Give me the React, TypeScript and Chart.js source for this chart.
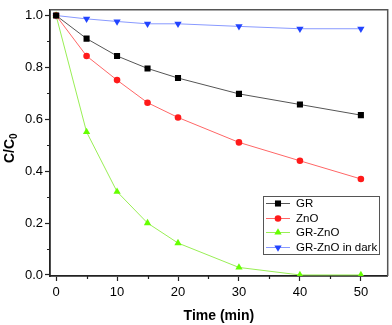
import React, { useEffect, useRef } from "react";
import { Chart, registerables } from "chart.js";

Chart.register(...registerables);

const times = [0, 5, 10, 15, 20, 30, 40, 50];
const grValues = [1.0, 0.911, 0.844, 0.796, 0.759, 0.698, 0.657, 0.616];
const znoValues = [1.0, 0.844, 0.751, 0.664, 0.607, 0.511, 0.44, 0.37];
const grZnoValues = [1.0, 0.551, 0.321, 0.2, 0.123, 0.029, 0.0, 0.0];
const darkValues = [1.0, 0.987, 0.977, 0.968, 0.968, 0.958, 0.949, 0.949];

const seriesNames = ["GR", "ZnO", "GR-ZnO", "GR-ZnO in dark"];
const xTickValues = [0, 5, 10, 15, 20, 25, 30, 35, 40, 45, 50];
const yTickValues = [0, 0.1, 0.2, 0.3, 0.4, 0.5, 0.6, 0.7, 0.8, 0.9, 1.0];
const xAxisTitle = "Time (min)";
const yAxisTitle = "C/C";
const yAxisSub = "0";

const FONT = "'Liberation Sans', Arial, sans-serif";

const styles = [
  { line: "#555555", point: "#000000", pointStyle: "rect", rotation: 0, radius: 4.3 },
  { line: "#ff6666", point: "#ff1a1a", pointStyle: "circle", rotation: 0, radius: 3.3 },
  { line: "#99ee55", point: "#66ff00", pointStyle: "triangle", rotation: 0, radius: 4.2 },
  { line: "#8899ff", point: "#2244ff", pointStyle: "triangle", rotation: 180, radius: 4.2 },
];

function drawMarker(ctx: CanvasRenderingContext2D, style: string, rotation: number, r: number, x: number, y: number) {
  ctx.beginPath();
  if (style === "rect") {
    const s = r * Math.SQRT1_2;
    ctx.rect(x - s, y - s, 2 * s, 2 * s);
  } else if (style === "circle") {
    ctx.arc(x, y, r, 0, Math.PI * 2);
  } else {
    const rad = (rotation * Math.PI) / 180;
    for (let k = 0; k < 3; k++) {
      const a = rad - Math.PI / 2 + (k * 2 * Math.PI) / 3;
      const px = x + Math.cos(a) * r;
      const py = y + Math.sin(a) * r;
      if (k === 0) ctx.moveTo(px, py);
      else ctx.lineTo(px, py);
    }
    ctx.closePath();
  }
  ctx.fill();
}

const framePlugin = {
  id: "framePlugin",
  afterDraw(chart: any) {
    const { ctx, chartArea } = chart;
    const { left, right, top, bottom } = chartArea;
    const xs = chart.scales.x;
    const ys = chart.scales.y;
    ctx.save();
    ctx.strokeStyle = "#555555";
    ctx.lineWidth = 1.5;
    ctx.beginPath();
    ctx.moveTo(left, top);
    ctx.lineTo(right, top);
    ctx.lineTo(right, bottom);
    ctx.stroke();
    ctx.strokeStyle = "#222222";
    ctx.lineWidth = 1.2;
    ctx.beginPath();
    xTickValues.forEach((v) => {
      if (v % 10 !== 0) {
        const px = Math.round(xs.getPixelForValue(v)) + 0.5;
        ctx.moveTo(px, bottom);
        ctx.lineTo(px, bottom + 3);
      }
    });
    yTickValues.forEach((v, i) => {
      if (i % 2 === 1) {
        const py = Math.round(ys.getPixelForValue(v)) + 0.5;
        ctx.moveTo(left, py);
        ctx.lineTo(left - 3, py);
      }
    });
    ctx.stroke();

    ctx.fillStyle = "#000";
    ctx.translate(14, 163);
    ctx.rotate(-Math.PI / 2);
    ctx.font = `bold 14px ${FONT}`;
    ctx.textBaseline = "alphabetic";
    ctx.textAlign = "left";
    ctx.fillText(yAxisTitle, 0, 0);
    const w = ctx.measureText(yAxisTitle).width;
    ctx.font = `bold 10px ${FONT}`;
    ctx.fillText(yAxisSub, w, 3);
    ctx.restore();

    ctx.save();
    const bx = 263, by = 196, bw = 116, bh = 58;
    ctx.fillStyle = "#fff";
    ctx.fillRect(bx, by, bw, bh);
    ctx.strokeStyle = "#555";
    ctx.lineWidth = 1;
    ctx.strokeRect(bx + 0.5, by + 0.5, bw, bh);
    const rowY = [203, 218, 232, 247];
    chart.data.datasets.forEach((ds: any, i: number) => {
      const st = styles[i];
      const y = rowY[i];
      ctx.strokeStyle = st.line;
      ctx.lineWidth = 1;
      ctx.beginPath();
      ctx.moveTo(266, y + 0.5);
      ctx.lineTo(290, y + 0.5);
      ctx.stroke();
      ctx.fillStyle = st.point;
      drawMarker(ctx, st.pointStyle, st.rotation, st.radius, 278, y + 0.5);
      ctx.fillStyle = "#000";
      ctx.font = `11.5px ${FONT}`;
      ctx.textBaseline = "middle";
      ctx.textAlign = "left";
      ctx.fillText(ds.label, 296, y + 1);
    });
    ctx.restore();
  },
};

export default function App() {
  const ref = useRef<HTMLCanvasElement>(null);
  useEffect(() => {
    if (!ref.current) return;
    const all = [grValues, znoValues, grZnoValues, darkValues];
    const chart = new Chart(ref.current, {
      type: "line",
      data: {
        datasets: all.map((vals, i) => ({
          label: seriesNames[i],
          data: times.map((t, j) => ({ x: t, y: vals[j] })),
          borderColor: styles[i].line,
          borderWidth: 1,
          backgroundColor: styles[i].point,
          pointBackgroundColor: styles[i].point,
          pointBorderColor: styles[i].point,
          pointBorderWidth: 0,
          pointStyle: styles[i].pointStyle as any,
          pointRotation: styles[i].rotation,
          pointRadius: styles[i].radius,
          tension: 0,
        })),
      },
      plugins: [framePlugin],
      options: {
        responsive: false,
        animation: false,
        devicePixelRatio: 1,
        layout: { padding: { top: 2, right: 4, left: 0, bottom: 0 } },
        plugins: {
          legend: { display: false },
          tooltip: { enabled: false },
        },
        scales: {
          x: {
            type: "linear",
            min: -1,
            max: 54.4,
            afterFit: (s: any) => {
              s.height = 49;
            },
            afterBuildTicks: (s: any) => {
              s.ticks = xTickValues.filter((v) => v % 10 === 0).map((v) => ({ value: v }));
            },
            ticks: {
              color: "#000",
              font: { family: FONT, size: 13 },
              padding: 4,
              maxRotation: 0,
              autoSkip: false,
              callback: (v: any) => String(v),
            },
            grid: {
              drawOnChartArea: false,
              drawTicks: true,
              tickLength: 5,
              tickColor: "#222",
              tickWidth: 1.2,
            },
            border: { display: true, color: "#222", width: 1.8 },
            title: {
              display: true,
              text: xAxisTitle,
              color: "#000",
              font: { family: FONT, size: 14, weight: "bold" },
              padding: { top: 6, bottom: 0 },
            },
          },
          y: {
            type: "linear",
            min: -0.004,
            max: 1.022,
            afterFit: (s: any) => {
              s.width = 50;
            },
            afterBuildTicks: (s: any) => {
              s.ticks = yTickValues.filter((_, i) => i % 2 === 0).map((v) => ({ value: v }));
            },
            ticks: {
              color: "#000",
              font: { family: FONT, size: 13 },
              padding: 2,
              autoSkip: false,
              callback: (v: any) => Number(v).toFixed(1),
            },
            grid: {
              drawOnChartArea: false,
              drawTicks: true,
              tickLength: 5,
              tickColor: "#222",
              tickWidth: 1.2,
            },
            border: { display: true, color: "#222", width: 1.8 },
            title: { display: false },
          },
        },
      },
    } as any);
    return () => chart.destroy();
  }, []);
  return (
    <div style={{ position: "absolute", left: 0, top: 0, width: 392, height: 325, background: "#fff" }}>
      <canvas ref={ref} width={392} height={325} style={{ display: "block" }} />
    </div>
  );
}
